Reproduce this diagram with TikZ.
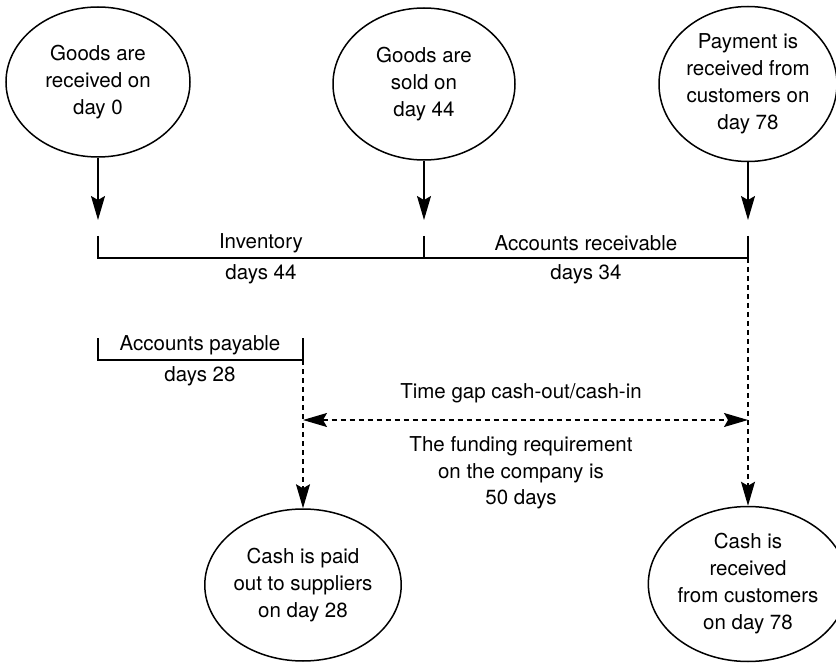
\documentclass[tikz,border=0pt]{standalone}
\usepackage{fontspec}
\setmainfont{TeX Gyre Heros}
\usetikzlibrary{shapes.geometric,arrows.meta}
\newcommand{\diafont}{\fontsize{20.5}{27}\selectfont}
\tikzset{
  bubble/.style={ellipse, draw, line width=1.5pt, inner sep=0pt, align=center, font=\diafont},
  lbl/.style={align=center, font=\diafont, inner sep=0pt},
  tip/.style={Stealth[length=24pt,width=14pt,inset=4pt]},
  conn/.style={line width=1.2pt, -{Stealth[length=24pt,width=14pt,inset=4pt]}},
  dashline/.style={dash pattern=on 5pt off 4pt},
  plain/.style={line width=1.2pt}
}
\begin{document}
\begin{tikzpicture}[x=1pt,y=-1pt]
\useasboundingbox (0,0) rectangle (836,663);
% top ellipses
\node[bubble, minimum width=184pt, minimum height=150pt] (a) at (98,82) {Goods are\\received on\\day 0};
\node[bubble, minimum width=182pt, minimum height=152pt] (b) at (424,84) {Goods are\\sold on\\day 44};
\node[bubble, minimum width=178pt, minimum height=155pt] (c) at (748,84) {Payment is\\received from\\customers on\\day 78};
% bottom ellipses
\node[bubble, minimum width=184pt, minimum height=152pt] (d) at (303,585) {Cash is paid\\out to suppliers\\on day 28};
\node[bubble, minimum width=178pt, minimum height=155pt] (e) at (748,584) {Cash is\\received\\from customers\\on day 78};
% coordinates
\coordinate (tA) at (98,220);
\coordinate (tB) at (424,220);
\coordinate (tC) at (748,220);
\coordinate (k1top) at (98,236);
\coordinate (k1bot) at (98,258);
\coordinate (k2top) at (424,236);
\coordinate (k2bot) at (424,258);
\coordinate (k3top) at (748,236);
\coordinate (k3bot) at (748,258);
\coordinate (p1top) at (98,338);
\coordinate (p1bot) at (98,360);
\coordinate (p2top) at (303,338);
\coordinate (p2bot) at (303,360);
\coordinate (gL) at (303,420);
\coordinate (gR) at (748,420);
% arrows from top ellipses
\draw[conn] (a) -- (tA);
\draw[conn] (b) -- (tB);
\draw[conn] (c) -- (tC);
% timeline
\draw[plain] (k1top) -- (k1bot) -- (k3bot);
\draw[plain] (k2top) -- (k2bot);
\draw[plain] (k3top) -- (k3bot);
\node[lbl] (inv) at (261,243) {Inventory};
\node[lbl] (inv2) at (261,274) {days 44};
\node[lbl] (ar) at (586,243) {Accounts receivable};
\node[lbl] (ar2) at (586,274) {days 34};
% payable
\draw[plain] (p1top) -- (p1bot) -- (p2bot) -- (p2top);
\node[lbl] (ap) at (200,345) {Accounts payable};
\node[lbl] (ap2) at (200,376) {days 28};
% dashed arrows down
\draw[conn, dashline] (p2bot) -- (d);
\draw[conn, dashline] (k3bot) -- (e);
% gap arrow
\draw[plain, dashline, {Stealth[length=24pt,width=14pt,inset=4pt]}-{Stealth[length=24pt,width=14pt,inset=4pt]}] (gL) -- (gR);
\node[lbl] (gap) at (521,393) {Time gap cash-out/cash-in};
\node[lbl, font=\fontsize{20.5}{26.5}\selectfont] (fund) at (521,473) {The funding requirement\\on the company is\\50 days};
\end{tikzpicture}
\end{document}
